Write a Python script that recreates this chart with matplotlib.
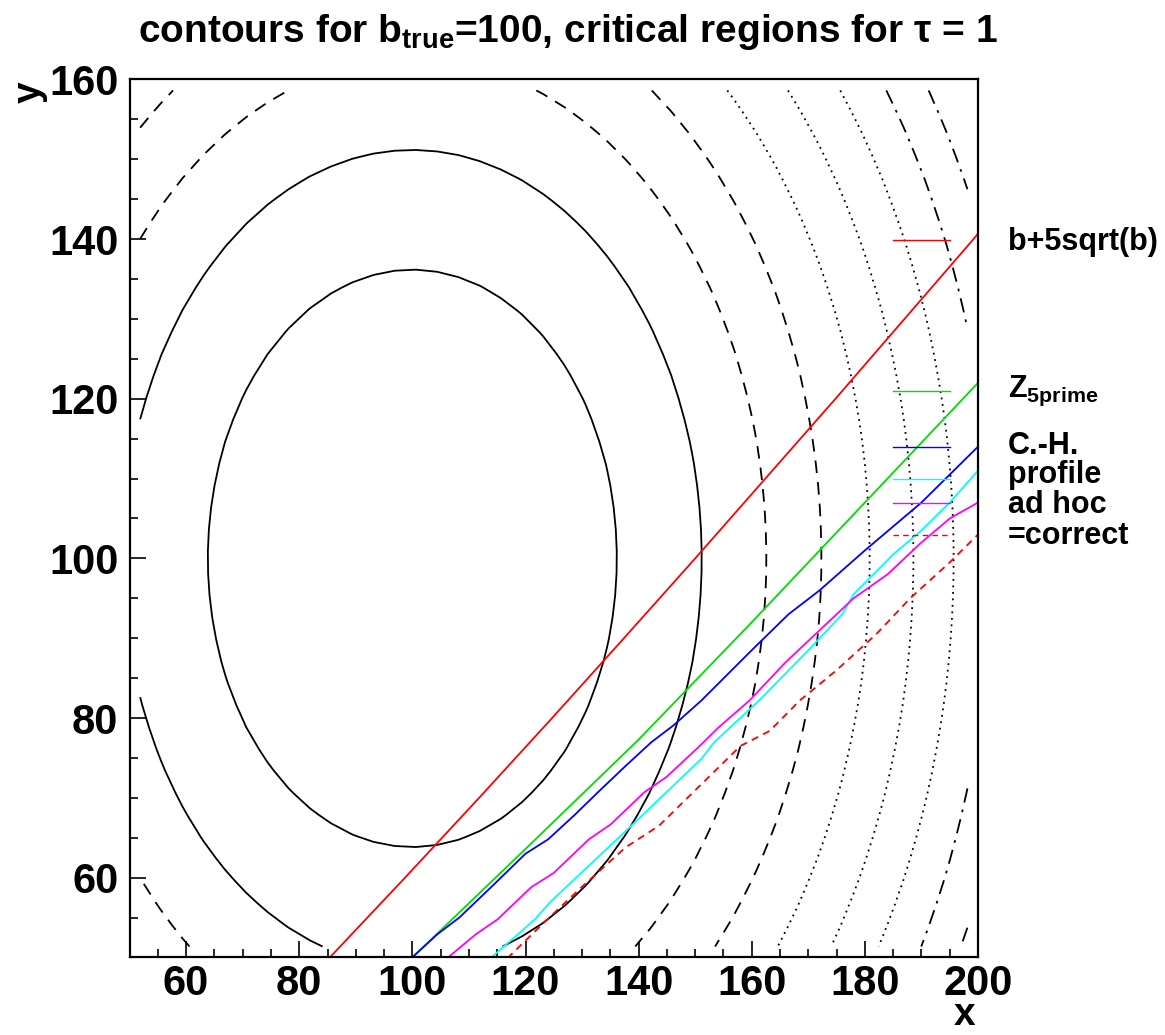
import numpy as np
import matplotlib.pyplot as plt
from matplotlib.lines import Line2D

plt.rcParams['font.family'] = ['Liberation Sans', 'DejaVu Sans']
plt.rcParams['font.weight'] = 'bold'
plt.rcParams['mathtext.fontset'] = 'custom'
plt.rcParams['mathtext.rm'] = 'Liberation Sans:bold'
plt.rcParams['mathtext.it'] = 'Liberation Sans:bold'
plt.rcParams['mathtext.bf'] = 'Liberation Sans:bold'

# contour field: 40x40 bins, x 50..200, y 50..160, b_true = 100
b_true = 100.0
nbins = 40
x_range = (50.0, 200.0)
y_range = (50.0, 160.0)
contour_levels = [13.1, 26.2, 39.2, 52.3, 65.4, 78.5, 91.6, 104.6, 117.7]
contour_styles = ['solid', 'solid', (0, (7, 5)), (0, (7, 5)),
                  (0, (1, 2.6)), (0, (1, 2.6)), (0, (1, 2.6)),
                  (0, (8, 4, 1.5, 4)), (0, (8, 4, 1.5, 4))]

# critical region boundaries (x, y)
cut_x = [85.4, 98.7, 111.8, 124.7, 137.4, 150.0, 162.4, 174.8, 187.0, 199.2, 200.0]
cut_y = [50, 60, 70, 80, 90, 100, 110, 120, 130, 140, 140.7]

z5_x = [100.0, 120.0, 140.0, 160.0, 180.0, 200.0]
z5_y = [50.0, 63.6, 77.3, 92.0, 107.0, 122.0]

ch_x = [99.8, 104.4, 108.3, 114.2, 120.0, 124.0, 128.6, 133.1, 137.7, 142.3,
        146.2, 151.1, 160.0, 166.5, 172.0, 180.0, 190.0, 195.0, 200.0]
ch_y = [49.9, 52.9, 55.0, 59.0, 63.0, 64.8, 67.8, 70.9, 74.0, 77.0,
        79.1, 82.2, 88.5, 93.0, 96.0, 101.0, 107.0, 110.5, 114.0]

prof_x = [113.8, 121.7, 124.3, 139.0, 151.1, 153.4, 161.3, 170.0, 176.0, 178.0,
          185.0, 190.0, 195.0, 200.0]
prof_y = [49.9, 54.8, 56.9, 66.7, 74.9, 77.0, 82.2, 88.5, 93.0, 95.5,
          100.5, 103.5, 107.0, 111.0]

adhoc_x = [106.3, 111.2, 115.1, 121.0, 125.0, 131.2, 135.1, 141.0, 144.9, 150.5,
           154.1, 159.6, 166.0, 172.0, 178.0, 184.0, 190.0, 195.0, 200.0]
adhoc_y = [50.0, 52.9, 54.8, 58.8, 60.6, 64.8, 66.7, 70.7, 72.6, 76.3,
           78.8, 82.2, 87.0, 91.0, 95.0, 98.0, 102.0, 105.0, 107.0]

corr_x = [116.8, 123.3, 129.9, 137.7, 143.6, 150.8, 158.0, 163.2, 168.5, 175.0,
          182.0, 188.0, 195.0, 200.0]
corr_y = [49.9, 54.4, 58.8, 63.8, 66.5, 71.5, 76.5, 78.4, 82.2, 86.0,
          90.5, 95.0, 99.5, 103.0]

legend_labels = ['b+5sqrt(b)', r'Z$_{5prime}$', 'C.-H.', 'profile', 'ad hoc', '=correct']
legend_colors = ['#ff0000', '#00dd00', '#0000ff', '#00ffff', '#ff00ff', '#ff0000']
legend_styles = ['-', '-', '-', '-', '-', (0, (4, 3))]

fig = plt.figure(figsize=(11.65, 10.35), dpi=100)
ax = fig.add_axes([0.1112, 0.0749, 0.7283, 0.8483])

xc = x_range[0] + (np.arange(nbins) + 0.5) * (x_range[1] - x_range[0]) / nbins
yc = y_range[0] + (np.arange(nbins) + 0.5) * (y_range[1] - y_range[0]) / nbins
X, Y = np.meshgrid(xc, yc)
Z = ((X - b_true) ** 2 + (Y - b_true) ** 2) / b_true
ax.contour(X, Y, Z, levels=contour_levels, colors='black',
           linewidths=1.3, linestyles=contour_styles)

lw = 1.3
ax.plot(cut_x, cut_y, color=legend_colors[0], lw=lw)
ax.plot(z5_x, z5_y, color=legend_colors[1], lw=lw)
ax.plot(ch_x, ch_y, color=legend_colors[2], lw=lw)
ax.plot(prof_x, prof_y, color=legend_colors[3], lw=lw)
ax.plot(adhoc_x, adhoc_y, color=legend_colors[4], lw=lw)
ax.plot(corr_x, corr_y, color=legend_colors[5], lw=lw, ls=legend_styles[5])

ax.set_xlim(*x_range)
ax.set_ylim(*y_range)
ax.set_xticks(np.arange(60, 201, 20))
ax.set_yticks(np.arange(60, 161, 20))
ax.set_xticks(np.arange(50, 201, 5), minor=True)
ax.set_yticks(np.arange(50, 161, 5), minor=True)
ax.tick_params(which='both', direction='in', top=False, right=False, width=1.2)
ax.tick_params(which='major', length=11.5, labelsize=30)
ax.tick_params(which='minor', length=6)
ax.tick_params(axis='x', pad=5)
ax.tick_params(axis='y', pad=8)
for s in ax.spines.values():
    s.set_linewidth(1.6)

# legend drawn at irregular heights like the original
leg_rows = [240, 391, 447, 479, 503, 535]
text_rows = [242, 391, 446, 475, 505, 536]
for lab, col, st, py, ty in zip(legend_labels, legend_colors, legend_styles, leg_rows, text_rows):
    yf = 1 - py / 1035
    fig.add_artist(Line2D([893 / 1165, 950 / 1165], [yf, yf], color=col, lw=1.0, ls=st))
    fig.text(1008 / 1165, 1 - ty / 1035, lab, fontsize=22, fontweight='bold',
             va='center', ha='left')

fig.text(0.487, 0.969, r'contours for b$_{true}$=100, critical regions for $\tau$ = 1',
         fontsize=28, fontweight='bold', ha='center', va='center')
fig.text(965 / 1165, 2 / 1035, 'x', fontsize=28, fontweight='bold', ha='center', va='bottom')
fig.text(30 / 1165, 1 - 92 / 1035, 'y', fontsize=28, fontweight='bold', ha='center', va='center',
         rotation=90)

fig.savefig('out.png', dpi=100)
